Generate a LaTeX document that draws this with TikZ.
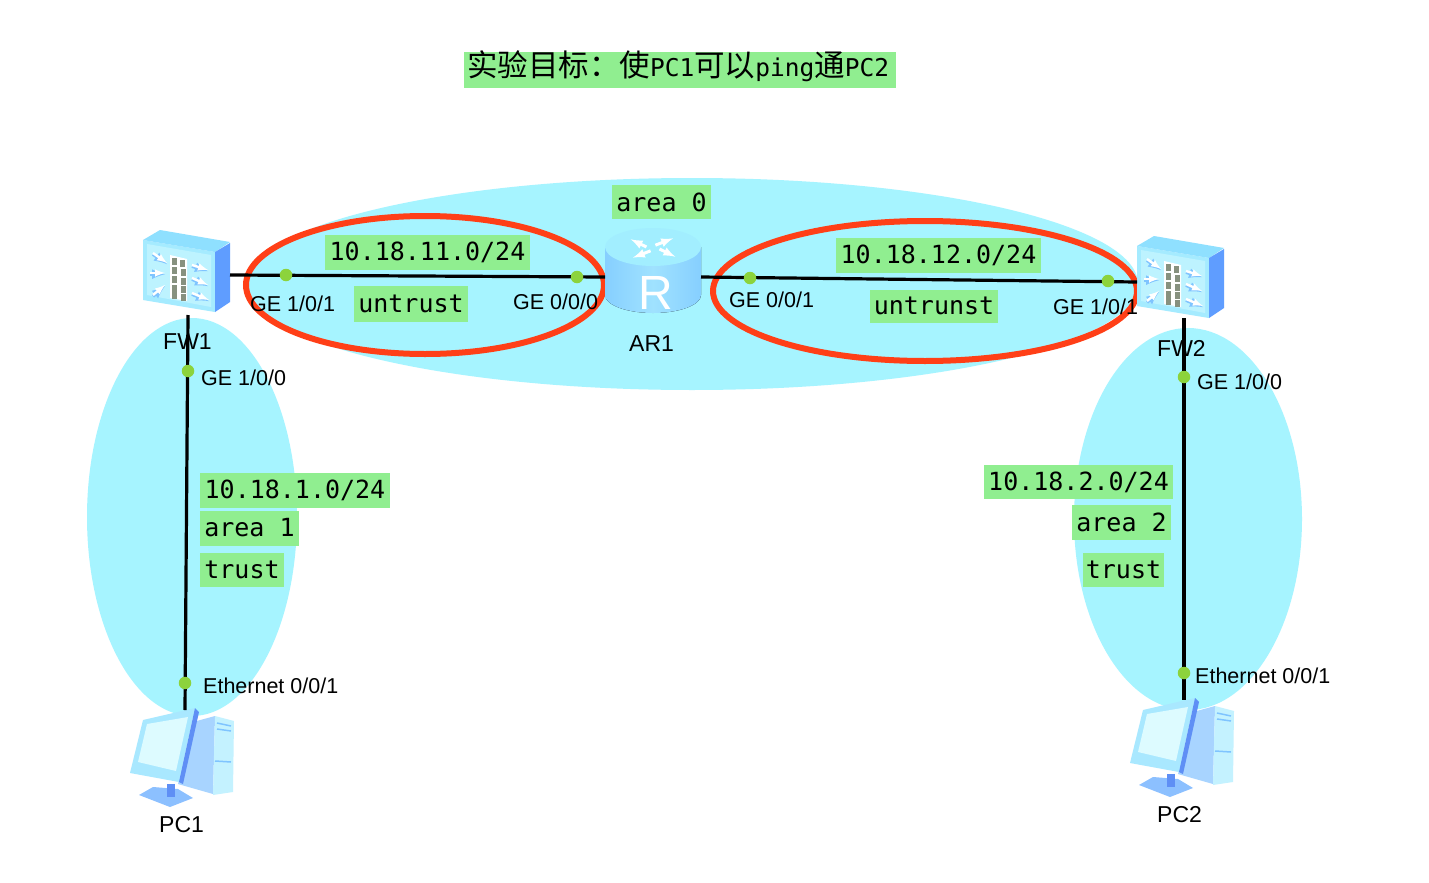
\documentclass[tikz,border=0pt]{standalone}
\usepackage{fontspec}
\setmainfont{Liberation Sans}
\newfontfamily\cjkf{Noto Sans CJK SC}
\newfontfamily\monof{DejaVu Sans Mono}
\definecolor{zonecy}{HTML}{A6F4FF}
\definecolor{ringred}{HTML}{FF3F17}
\definecolor{tagg}{HTML}{90EE90}
\definecolor{portg}{HTML}{8CD33C}
\definecolor{brick}{HTML}{87917F}
\definecolor{fwtop}{HTML}{8FE0FF}
\definecolor{fwfront}{HTML}{A5EBFF}
\definecolor{fwpanel}{HTML}{BDF3FF}
\definecolor{fwside}{HTML}{5F9DFF}
\definecolor{fwshadow}{HTML}{7FC4FF}
\definecolor{pcside}{HTML}{A8D4FF}
\definecolor{pcfront}{HTML}{C4F2FF}
\definecolor{pcbez}{HTML}{A9E8FF}
\definecolor{pcscreen}{HTML}{DDFBFF}
\definecolor{pcdark}{HTML}{5F8FF5}
\definecolor{pcstand}{HTML}{8CC0FF}
\definecolor{artop}{HTML}{A2EEFF}
\definecolor{arside}{HTML}{86CFFF}
\definecolor{arsidem}{HTML}{A0E2FF}
\tikzset{
  x=1pt,y=-1pt,
  zone/.style={fill=zonecy},
  ring/.style={draw=ringred,line width=6pt},
  link/.style={draw=black,line width=3.2pt},
  portdot/.style={circle,fill=portg,minimum size=12.5pt,inner sep=0pt},
  tag/.style={fill=tagg,inner sep=0pt,text=black,font=\monof\fontsize{25}{26}\selectfont},
  lbl/.style={inner sep=0pt,anchor=west,text=black,font=\fontsize{21.5}{24}\selectfont},
  devlbl/.style={inner sep=0pt,anchor=west,text=black,font=\fontsize{23}{24}\selectfont},
}
\newcommand{\fwicon}[3]{%
\begin{scope}[shift={(#2,#3)}]
  \node[inner sep=0pt,minimum width=88pt,minimum height=85pt] (#1) at (44,47) {};
  \fill[fwfront] (0,16) -- (72,28) -- (72,88) -- (0,76) -- cycle;
  \fill[fwpanel] (4,20) -- (68,31) -- (68,83) -- (4,71) -- cycle;
  \fill[fwtop] (0,16) -- (17,6) -- (87,18) -- (72,28) -- cycle;
  \fill[fwside] (72,28) -- (87,19) -- (87,78) -- (72,88) -- cycle;
  \foreach \ax/\ay/\bx/\by in {10/29/24/39, 7/49/22/49, 10/71/22/61, 49/41/65/46, 49/54/65/61, 49/69/66/76}{
    \draw[fwshadow,line width=3.4pt,-latex] (\ax,\ay+1.2) -- (\bx,\by+1.2);
    \draw[white,line width=2.4pt,-latex] (\ax,\ay) -- (\bx,\by);
  }
  \fill[white] (27,31) -- (44,35) -- (44,77) -- (27,74) -- cycle;
  \foreach \px/\py in {29/34,37/36,29/43,38/45,29/52,38/54,29/61,38/62,29/68,38/70}
    \fill[brick] (\px,\py) rectangle ++(5,6.5);
\end{scope}}
\newcommand{\pcicon}[3]{%
\begin{scope}[shift={(#2,#3)}]
  \node[inner sep=0pt,minimum width=105pt,minimum height=97pt] (#1) at (66,58) {};
  \fill[pcside] (78,22) -- (100,16) -- (98,94) -- (63,84) -- cycle;
  \fill[pcfront] (100,16) -- (119,21) -- (118,92) -- (98,95) -- cycle;
  \fill[pcstand] (24,95) -- (38,87) -- (63,89) -- (78,98) -- (55,107) -- cycle;
  \fill[pcdark] (52,84) -- (60,84) -- (60,97) -- (52,97) -- cycle;
  \fill[pcbez] (28,20) -- (80,8) -- (64,82) -- (15,73) -- cycle;
  \fill[pcscreen] (32,24) -- (73,17) -- (61,71) -- (23,62) -- cycle;
  \fill[pcdark] (80,8) -- (84,12) -- (68,84) -- (64,82) -- cycle;
  \draw[fwshadow,line width=1.5pt] (102,23) -- (116,26) (102,29) -- (116,31) (100,61) -- (116,62);
\end{scope}}
\begin{document}
\begin{tikzpicture}
\path[use as bounding box,fill=white] (0,0) rectangle (1429,883);
% zones
\fill[zone] (692,284) ellipse [x radius=446,y radius=106];
\fill[zone] (192,517) ellipse [x radius=105,y radius=199];
\fill[zone] (1188,519) ellipse [x radius=114,y radius=191];
% rings
\draw[ring] (425,285) ellipse [x radius=179,y radius=69];
\draw[ring] (925,291) ellipse [x radius=212,y radius=70];
% icons
\fwicon{FW1}{143}{224}
\fwicon{FW2}{1137}{230}
\pcicon{PC1}{115}{700}
\pcicon{PC2}{1115}{690}
% router
\node[inner sep=0pt,minimum width=96pt,minimum height=86pt] (AR1) at (653,270) {};
\fill[left color=arside,right color=arside,middle color=arsidem]
  (605,247) -- (605,295) arc [start angle=180,end angle=0,x radius=48,y radius=18] -- (701,247) -- cycle;
\fill[artop] (653,247) ellipse [x radius=48,y radius=19];
\foreach \r in {20,110,200,290}
  \draw[white,line width=3pt,-latex] ([shift={(\r:7 and 3)}]653,248) -- ([shift={(\r+22:30 and 13)}]653,248);
\node[inner sep=0pt,text=white,font=\fontsize{48}{48}\selectfont] (ARR) at (656,293) {R};
% connector end points
\coordinate (a1) at (230,275);
\coordinate (a2) at (605,277);
\coordinate (b1) at (701,277);
\coordinate (b2) at (1137,282);
\coordinate (c1) at (188,315);
\coordinate (c2) at (185,710);
\coordinate (d1) at (1184,318);
\coordinate (d2) at (1184,700);
\draw[link] (a1) -- (a2);
\draw[link] (b1) -- (b2);
\draw[link] (c1) -- (c2);
\draw[link] (d1) -- (d2);
% ports
\node[portdot] (p1) at (286,275) {};
\node[portdot] (p2) at (577,277) {};
\node[portdot] (p3) at (750,278) {};
\node[portdot] (p4) at (1108,281) {};
\node[portdot] (p5) at (188,371) {};
\node[portdot] (p6) at (185,683) {};
\node[portdot] (p7) at (1184,377) {};
\node[portdot] (p8) at (1184,673) {};
% title
\node[fill=tagg,inner sep=0pt,minimum width=432pt,minimum height=36pt] (title) at (680,70) {};
\node[inner sep=0pt,anchor=west,text=black] (titletext) at (467,66)
 {\cjkf\fontsize{30.5}{32}\selectfont 实验目标：使{\monof\fontsize{24.5}{24}\selectfont PC1}可以{\monof\fontsize{24.5}{24}\selectfont ping}通{\monof\fontsize{24.5}{24}\selectfont PC2}};
% tags
\node[tag,minimum width=99pt,minimum height=34pt] (t1) at (661.5,202) {area 0};
\node[tag,minimum width=205pt,minimum height=35pt] (t2) at (427.5,252) {10.18.11.0/24};
\node[tag,minimum width=114pt,minimum height=36pt] (t3) at (411,304) {untrust};
\node[tag,minimum width=205pt,minimum height=35pt] (t4) at (938.5,255) {10.18.12.0/24};
\node[tag,minimum width=128pt,minimum height=33pt] (t5) at (934,306) {untrunst};
\node[tag,minimum width=190pt,minimum height=35pt] (t6) at (295,490) {10.18.1.0/24};
\node[tag,minimum width=99pt,minimum height=35pt] (t7) at (249.5,528) {area 1};
\node[tag,minimum width=84pt,minimum height=34pt] (t8) at (242,570) {trust};
\node[tag,minimum width=189pt,minimum height=34pt] (t9) at (1078.5,482) {10.18.2.0/24};
\node[tag,minimum width=99pt,minimum height=35pt] (t10) at (1121.5,522) {area 2};
\node[tag,minimum width=81pt,minimum height=34pt] (t11) at (1123.5,570) {trust};
% labels
\node[lbl] (l1) at (250,304) {GE 1/0/1};
\node[lbl] (l2) at (513,302) {GE 0/0/0};
\node[lbl] (l3) at (729,300) {GE 0/0/1};
\node[lbl] (l4) at (1053,307) {GE 1/0/1};
\node[devlbl] (l5) at (163,342) {FW1};
\node[lbl] (l6) at (201,378) {GE 1/0/0};
\node[lbl] (l7) at (203,686) {Ethernet 0/0/1};
\node[devlbl] (l8) at (159,825) {PC1};
\node[devlbl] (l9) at (629,344) {AR1};
\node[devlbl] (l10) at (1157,348) {FW2};
\node[lbl] (l11) at (1197,382) {GE 1/0/0};
\node[lbl] (l12) at (1195,676) {Ethernet 0/0/1};
\node[devlbl] (l13) at (1157,815) {PC2};
\end{tikzpicture}
\end{document}
